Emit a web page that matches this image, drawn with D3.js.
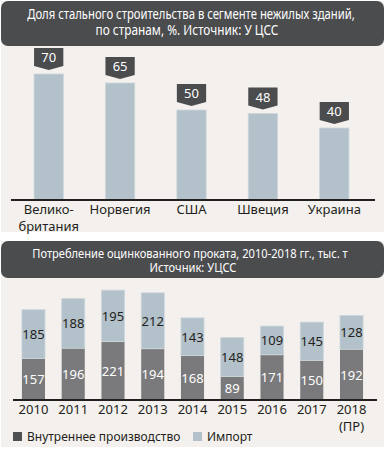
<!DOCTYPE html>
<html lang="ru">
<head>
<meta charset="UTF-8">
<title>Сталь в строительстве и оцинкованный прокат</title>
<script src="https://d3js.org/d3.v7.min.js"></script>
<style>
  body { margin: 0; background: #fff; }
  svg text { font-family: "Noto Sans", "Open Sans", sans-serif; font-weight: 400; }
</style>
</head>
<body>
<svg id="chart" width="385" height="452"></svg>
<script>
// chart 1: share of steel construction, %
const countries = ['Велико-британия', 'Норвегия', 'США', 'Швеция', 'Украина'];
const countryLines = [['Велико-', 'британия'], ['Норвегия'], ['США'], ['Швеция'], ['Украина']];
const shares = [70, 65, 50, 48, 40];

// chart 2: galvanized steel consumption, thousand t
const years = ['2010', '2011', '2012', '2013', '2014', '2015', '2016', '2017', '2018'];
const yearLines = [['2010'], ['2011'], ['2012'], ['2013'], ['2014'], ['2015'], ['2016'], ['2017'], ['2018', '(ПР)']];
const domestic = [157, 196, 221, 194, 168, 89, 171, 150, 192];
const imports = [185, 188, 195, 212, 143, 148, 109, 145, 128];
const legendLabels = ['Внутреннее производство', 'Импорт'];

const dark = '#4b4c4e';
const barBlue = '#b3c1ca';
const barGray = '#7a7a7c';

const svg = d3.select('#chart');

// panel backgrounds
svg.append('rect').attr('x', 1).attr('y', 1).attr('width', 383).attr('height', 231).attr('fill', '#f3f0ed');
svg.append('rect').attr('x', 1).attr('y', 241).attr('width', 383).attr('height', 206).attr('fill', '#f3f0ed');

// header boxes, text squeezed horizontally to look condensed
function header(y, h, size, lines) {
    svg.append('rect')
        .attr('x', 1).attr('y', y).attr('width', 383).attr('height', h)
        .attr('rx', 7).attr('fill', dark);
    lines.forEach(l => {
        const t = svg.append('text')
            .attr('text-anchor', 'middle')
            .attr('fill', '#fff')
            .attr('font-size', size)
            .text(l.t);
        const k = l.w / t.node().getComputedTextLength();
        t.attr('transform', `translate(${l.x},${l.y}) scale(${k},1)`);
    });
}
header(1, 45, 14, [
    { t: 'Доля стального строительства в сегменте нежилых зданий,', x: 191, y: 19, w: 328 },
    { t: 'по странам, %. Источник: У ЦСС', x: 187, y: 35, w: 183 }
]);
header(241, 37, 13, [
    { t: 'Потребление оцинкованного проката, 2010-2018 гг., тыс. т', x: 190, y: 258, w: 316 },
    { t: 'Источник: УЦСС', x: 193, y: 272, w: 87 }
]);

// ---- chart 1
const x1 = d3.scaleBand().domain(countries).range([13, 370]).paddingInner(0.59).paddingOuter(0.295);
const y1 = d3.scaleLinear().domain([0, 100]).range([200, 20]);

const g1 = svg.append('g');
g1.selectAll('.bar1')
    .data(shares)
    .enter()
    .append('rect')
    .attr('class', 'bar1')
    .attr('x', (d, i) => x1(countries[i]))
    .attr('y', d => y1(d))
    .attr('width', x1.bandwidth())
    .attr('height', d => y1(0) - y1(d))
    .attr('fill', barBlue)
    .attr('stroke', '#cdd6db')
    .attr('stroke-width', 0.8);

// value tags
const bw = x1.bandwidth();
g1.selectAll('.tag')
    .data(shares)
    .enter()
    .append('path')
    .attr('class', 'tag')
    .attr('fill', dark)
    .attr('d', (d, i) => {
        const x = x1(countries[i]);
        const bottom = y1(d) - 8;
        const top = bottom - 18;
        return `M${x},${top}H${x + bw}V${bottom}L${x + bw / 2},${bottom + 4}L${x},${bottom}Z`;
    });
g1.selectAll('.tagtxt')
    .data(shares)
    .enter()
    .append('text')
    .attr('x', (d, i) => x1(countries[i]) + bw / 2)
    .attr('y', d => y1(d) - 12)
    .attr('text-anchor', 'middle')
    .attr('fill', '#fff')
    .attr('font-size', 13)
    .text(d => d);

const ax1 = g1.append('g')
    .attr('transform', 'translate(0,200)')
    .call(d3.axisBottom(x1).tickSize(0).tickFormat(''));
ax1.select('.domain').remove();
ax1.selectAll('.tick').each(function (d, i) {
    const t = d3.select(this).append('text')
        .attr('fill', '#231f20')
        .attr('font-size', 13)
        .attr('text-anchor', 'middle');
    countryLines[i].forEach((s, k) => {
        t.append('tspan').attr('x', 0).attr('y', 14 + k * 17).text(s);
    });
});
g1.append('line')
    .attr('x1', 11).attr('x2', 375).attr('y1', 200).attr('y2', 200)
    .attr('stroke', '#231f20').attr('stroke-width', 2);

// ---- chart 2
const x2 = d3.scaleBand().domain(years).range([13.6, 371.4]).paddingInner(0.42).paddingOuter(0.21);
const y2 = d3.scaleLinear().domain([0, 500]).range([400, 268]);

const g2 = svg.append('g');
g2.selectAll('.dom')
    .data(domestic)
    .enter()
    .append('rect')
    .attr('x', (d, i) => x2(years[i]))
    .attr('y', d => y2(d))
    .attr('width', x2.bandwidth())
    .attr('height', d => y2(0) - y2(d))
    .attr('fill', barGray);
g2.selectAll('.imp')
    .data(imports)
    .enter()
    .append('rect')
    .attr('x', (d, i) => x2(years[i]))
    .attr('y', (d, i) => y2(domestic[i] + d))
    .attr('width', x2.bandwidth())
    .attr('height', (d, i) => y2(domestic[i]) - y2(domestic[i] + d))
    .attr('fill', barBlue)
    .attr('stroke', '#cdd6db')
    .attr('stroke-width', 0.8);

g2.selectAll('.domtxt')
    .data(domestic)
    .enter()
    .append('text')
    .attr('x', (d, i) => x2(years[i]) + x2.bandwidth() / 2)
    .attr('y', d => (y2(d) + y2(0)) / 2 + 5)
    .attr('text-anchor', 'middle')
    .attr('fill', '#fff')
    .attr('font-size', 13)
    .text(d => d);
g2.selectAll('.imptxt')
    .data(imports)
    .enter()
    .append('text')
    .attr('x', (d, i) => x2(years[i]) + x2.bandwidth() / 2)
    .attr('y', (d, i) => (y2(domestic[i]) + y2(domestic[i] + d)) / 2 + 5)
    .attr('text-anchor', 'middle')
    .attr('fill', '#231f20')
    .attr('font-size', 13)
    .text(d => d);

const ax2 = g2.append('g')
    .attr('transform', 'translate(0,400)')
    .call(d3.axisBottom(x2).tickSize(0).tickFormat(''));
ax2.select('.domain').remove();
ax2.selectAll('.tick').each(function (d, i) {
    const t = d3.select(this).append('text')
        .attr('fill', '#231f20')
        .attr('font-size', 13)
        .attr('text-anchor', 'middle');
    yearLines[i].forEach((s, k) => {
        t.append('tspan').attr('x', 0).attr('y', 14 + k * 17).text(s);
    });
});
g2.append('line')
    .attr('x1', 13).attr('x2', 377).attr('y1', 400).attr('y2', 400)
    .attr('stroke', '#231f20').attr('stroke-width', 2);

// legend
const legend = svg.append('g');
[{ x: 13, c: '#505052', t: legendLabels[0] }, { x: 193, c: barBlue, t: legendLabels[1] }].forEach(l => {
    legend.append('rect').attr('x', l.x).attr('y', 432).attr('width', 9).attr('height', 9).attr('fill', l.c);
    legend.append('text')
        .attr('x', l.x + 14).attr('y', 441)
        .attr('fill', '#231f20')
        .attr('font-size', 12)
        .text(l.t);
});
</script>
</body>
</html>
